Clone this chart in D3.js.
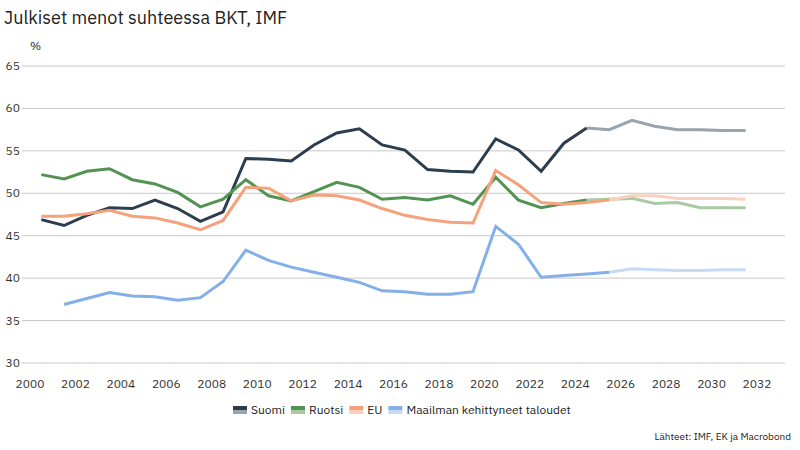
<!DOCTYPE html>
<html><head><meta charset="utf-8">
<script src="https://cdn.jsdelivr.net/npm/d3@7"></script>
<style>body{margin:0;background:#fff;font-family:"IBM Plex Sans","Noto Sans",sans-serif;}</style>
</head><body><svg id="c" width="800" height="450"></svg>
<script>
// values per year, points drawn at mid-year
var suomi = [46.9,46.2,47.4,48.3,48.2,49.2,48.2,46.7,47.8,54.1,54.0,53.8,55.7,57.1,57.6,55.7,55.1,52.8,52.6,52.5,56.4,55.1,52.6,55.9,57.7,57.5,58.6,57.9,57.5,57.5,57.4,57.4];
var ruotsi = [52.2,51.7,52.6,52.9,51.6,51.1,50.1,48.4,49.3,51.6,49.7,49.1,50.2,51.3,50.7,49.3,49.5,49.2,49.7,48.7,51.9,49.2,48.3,48.8,49.2,49.3,49.4,48.8,48.9,48.3,48.3,48.3];
var eu = [47.3,47.3,47.6,48.0,47.3,47.1,46.5,45.7,46.8,50.7,50.6,49.1,49.8,49.7,49.2,48.2,47.4,46.9,46.6,46.5,52.7,51.0,48.9,48.7,48.9,49.2,49.7,49.7,49.4,49.4,49.4,49.3];
var kehittyneet = [null,36.9,37.6,38.3,37.9,37.8,37.4,37.7,39.6,43.3,42.1,41.3,40.7,40.1,39.5,38.5,38.4,38.1,38.1,38.4,46.1,44.0,40.1,40.3,40.5,40.7,41.1,41.0,40.9,40.9,41.0,41.0];
var firstYear = 2000;
var yTicks = [30,35,40,45,50,55,60,65];
var xTicks = d3.range(2000, 2033, 2);

var series = [
  {name:"Suomi", values:suomi, c:"#2c3d4e", f:"#9ba3ad", last:2024},
  {name:"Ruotsi", values:ruotsi, c:"#529352", f:"#aac9a5", last:2024},
  {name:"EU", values:eu, c:"#f5a27c", f:"#f8d2bf", last:2025},
  {name:"Maailman kehittyneet taloudet", values:kehittyneet, c:"#84afe8", f:"#c6daf5", last:2025}
];

var svg = d3.select("#c");
var x = d3.scaleLinear().domain([2000, 2032]).range([30, 757]);
var y = d3.scaleLinear().domain([30, 65]).range([363, 66]);

svg.append("text").attr("x", 4).attr("y", 24).attr("font-size", 18).attr("fill", "#222")
  .text("Julkiset menot suhteessa BKT, IMF");
svg.append("text").attr("x", 30).attr("y", 50).attr("font-size", 12).attr("fill", "#222").text("%");

var ax = svg.append("g");
yTicks.forEach(function (t) {
  ax.append("line").attr("x1", 22).attr("x2", 785).attr("y1", y(t)).attr("y2", y(t))
    .attr("stroke", "#c8c8c8").attr("stroke-width", 1);
  ax.append("text").attr("x", 20).attr("y", y(t) + 4).attr("text-anchor", "end")
    .attr("font-size", 12).attr("fill", "#333").text(t);
});
xTicks.forEach(function (t) {
  ax.append("text").attr("x", x(t)).attr("y", 388).attr("text-anchor", "middle")
    .attr("font-size", 12).attr("fill", "#333").text(t);
});

var line = d3.line().defined(function (d) { return d.v != null; })
  .x(function (d) { return x(d.yr + 0.5); }).y(function (d) { return y(d.v); });

series.forEach(function (s) {
  var pts = s.values.map(function (v, i) { return {yr: firstYear + i, v: v}; });
  svg.append("path").datum(pts.filter(function (d) { return d.yr >= s.last; }))
    .attr("d", line).attr("fill", "none").attr("stroke", s.f).attr("stroke-width", 3);
  svg.append("path").datum(pts.filter(function (d) { return d.yr <= s.last; }))
    .attr("d", line).attr("fill", "none").attr("stroke", s.c).attr("stroke-width", 3);
});

// legend
var lx = 233;
series.forEach(function (s) {
  var g = svg.append("g").attr("transform", "translate(" + lx + ",410)");
  g.append("rect").attr("x", 0).attr("y", -4).attr("width", 14).attr("height", 4).attr("fill", s.c);
  g.append("rect").attr("x", 0).attr("y", 0).attr("width", 14).attr("height", 4).attr("fill", s.f);
  var t = g.append("text").attr("x", 18).attr("y", 4).attr("font-size", 12).attr("fill", "#222").text(s.name);
  lx += 18 + t.node().getComputedTextLength() + 6;
});

svg.append("text").attr("x", 791).attr("y", 440).attr("text-anchor", "end")
  .attr("font-size", 10).attr("fill", "#222").text("Lähteet: IMF, EK ja Macrobond");
</script></body></html>
